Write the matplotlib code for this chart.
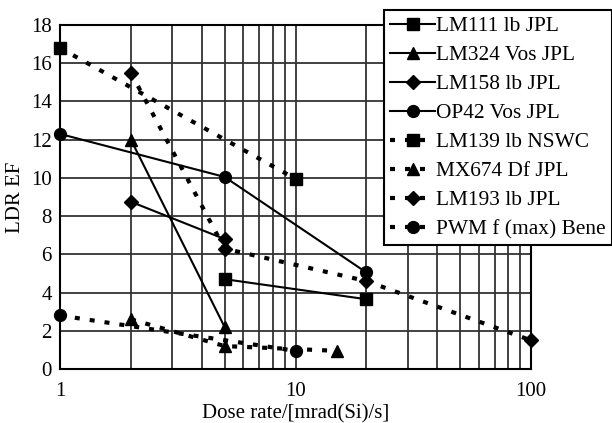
import matplotlib
matplotlib.use("Agg")
import matplotlib.pyplot as plt
from matplotlib.ticker import FixedLocator, NullFormatter

plt.rcParams['font.family'] = ['Liberation Serif', 'DejaVu Serif']

# Data
lm111_x = [5, 20];        lm111_y = [4.7, 3.65]
lm324_x = [2, 5];         lm324_y = [12.0, 2.2]
lm158_x = [2, 5];         lm158_y = [8.75, 6.8]
op42_x = [1, 5, 20];      op42_y = [12.3, 10.05, 5.05]
lm139_x = [1, 10];        lm139_y = [16.8, 9.95]
mx674_x = [2, 5, 15];     mx674_y = [2.6, 1.2, 0.95]
lm193_x = [2, 5, 20, 100]; lm193_y = [15.5, 6.3, 4.6, 1.5]
pwm_x = [1, 10];          pwm_y = [2.8, 0.95]

labels = ["LM111 lb JPL", "LM324 Vos JPL", "LM158 lb JPL", "OP42 Vos JPL",
          "LM139 lb NSWC", "MX674 Df JPL", "LM193 lb JPL", "PWM f (max) Bene"]
y_ticks = [0, 2, 4, 6, 8, 10, 12, 14, 16, 18]
x_ticks = [1, 10, 100]
x_ticklabels = ["1", "10", "100"]

fig = plt.figure(figsize=(6.12, 4.23), dpi=100)
ax = fig.add_axes([60/612, 1-369/423, (531-60)/612, (369-25)/423])

solid = dict(color='black', linestyle='-', linewidth=1.5, markersize=8.5)
dot = dict(color='black', linestyle=(0, (1.2, 2.4)), linewidth=3, markersize=8.5)

h = []
h += ax.plot(lm111_x, lm111_y, marker='s', label=labels[0], **solid)
h += ax.plot(lm324_x, lm324_y, marker='^', label=labels[1], **solid)
h += ax.plot(lm158_x, lm158_y, marker='D', label=labels[2], **dict(solid, markersize=7))
h += ax.plot(op42_x, op42_y, marker='o', label=labels[3], **solid)
h += ax.plot(lm139_x, lm139_y, marker='s', label=labels[4], **dot)
h += ax.plot(mx674_x, mx674_y, marker='^', label=labels[5], **dot)
h += ax.plot(lm193_x, lm193_y, marker='D', label=labels[6], **dict(dot, markersize=7))
h += ax.plot(pwm_x, pwm_y, marker='o', label=labels[7], **dot)
for line in h:
    line.set_clip_on(False)

ax.set_xscale('log')
ax.set_xlim(1, 100)
ax.set_ylim(0, 18)
ax.xaxis.set_major_locator(FixedLocator(x_ticks))
ax.set_xticklabels(x_ticklabels)
ax.xaxis.set_minor_formatter(NullFormatter())
ax.set_yticks(y_ticks)
ax.grid(True, which='both', color='#333333', linewidth=1.3)
ax.set_axisbelow(True)
for s in ax.spines.values():
    s.set_linewidth(1.5)
    s.set_color('black')
ax.tick_params(which='both', length=0, labelsize=15)
ax.tick_params(axis='x', pad=9)
ax.tick_params(axis='y', pad=6)
ax.set_xlabel("Dose rate/[mrad(Si)/s]", fontsize=15, labelpad=3)
ax.set_ylabel("LDR EF", fontsize=15, labelpad=4)

leg = fig.legend(handles=h, labels=labels, loc='upper left',
                 bbox_to_anchor=(384/612, 1-10/423), fontsize=15.4,
                 frameon=True, fancybox=False, framealpha=1, edgecolor='black',
                 handlelength=2.1, handletextpad=0.05, labelspacing=0.42,
                 borderpad=0.3, borderaxespad=0)
leg.get_frame().set_linewidth(1.5)

fig.savefig("out.png", dpi=100)
